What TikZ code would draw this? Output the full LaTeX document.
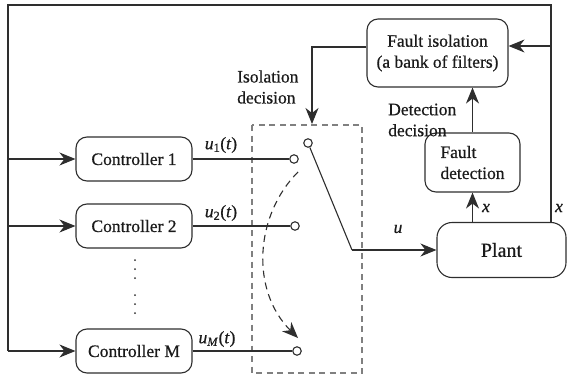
\documentclass[tikz,border=0pt]{standalone}
\usepackage{fontspec}
\setmainfont{Liberation Serif}
\newfontfamily\tnr{Liberation Serif}[FakeBold=0.6]
\usetikzlibrary{arrows.meta}
\definecolor{linec}{HTML}{2E2E2E}
\definecolor{textc}{HTML}{1A1A1A}
\definecolor{dashc}{HTML}{808080}
\newcommand{\fsz}{\tnr\fontsize{17.5}{21}\selectfont}
\newcommand{\fbig}{\tnr\fontsize{20}{24}\selectfont}
\begin{document}
\begin{tikzpicture}[x=1pt,y=-1pt,
  line/.style={draw=linec, line width=1.1pt},
  arr/.style={line, -{Stealth[length=16pt,width=13pt,inset=5pt]}},
  blk/.style={draw=linec, line width=1.1pt, rounded corners=11pt, inner sep=0pt, font=\fsz, text=textc},
  ctrl/.style={blk, minimum width=116pt, minimum height=44pt},
  contact/.style={circle, draw=linec, line width=1.1pt, fill=white, minimum size=8.5pt, inner sep=0pt},
  lbl/.style={inner sep=0pt, font=\fsz, text=textc},
  dashbox/.style={draw=dashc, line width=1.1pt, dash pattern=on 6pt off 4.5pt}
]
\useasboundingbox (0,0) rectangle (569,377);

% frame corners
\coordinate (tl) at (8,5);
\coordinate (tr) at (551,5);
\coordinate (bl) at (8,351);

% controllers
\node[ctrl] (k1) at (134,159) {Controller 1};
\node[ctrl] (k2) at (134,226) {Controller 2};
\node[ctrl] (kM) at (134,351) {Controller M};

% vertical dots
\foreach \yy in {260,269,278,295,304,313}
  \fill[linec] (135,\yy) circle (1pt);

% switch contacts
\node[contact] (c1) at (294,159) {};
\node[contact] (c2) at (295,226) {};
\node[contact] (cM) at (297,351) {};
\node[contact] (cp) at (308,143) {};

% dashed box of switch
\draw[dashbox] (252,125) rectangle (362,373);

% plant and fault blocks
\node[blk, rounded corners=15pt, minimum width=129pt, minimum height=55pt, font=\fbig] (plant) at (501.5,250) {Plant};
\node[blk, minimum width=95pt, minimum height=59pt, align=left] (fd) at (472.5,162.5) {Fault\\detection};
\node[blk, minimum width=141pt, minimum height=68pt, align=center] (fi) at (437.5,53) {Fault isolation\\(a bank of filters)};

% frame lines
\draw[line] (bl) -- (tl) -- (tr) -- (plant.north -| tr);

% arrows into controllers
\draw[arr] (k1.west -| tl) -- (k1.west);
\draw[arr] (k2.west -| tl) -- (k2.west);
\draw[arr] (kM.west -| tl) -- (kM.west);

% controller outputs
\draw[line] (k1) -- (c1);
\draw[line] (k2) -- (c2);
\draw[line] (kM) -- (cM);
\node[lbl] (u1) at (221,145) {\textit{u}\textsubscript{1}(\textit{t})};
\node[lbl] (u2) at (221,213) {\textit{u}\textsubscript{2}(\textit{t})};
\node[lbl] (uM) at (217,339) {\textit{u}\textsubscript{\textit{M}}(\textit{t})};

% switch blade and output
\coordinate (bend) at (352,250);
\draw[line] (cp) -- (bend);
\draw[arr] (bend) -- (plant.west);
\node[lbl] (ulab) at (398,229) {\textit{u}};

% dashed selector arrow
\coordinate (ds) at (298,172);
\coordinate (de) at (298,338);
\draw[arr, dash pattern=on 7pt off 5pt] (ds) .. controls (255,215) and (250,290) .. (de);

% plant -> fault detection
\draw[arr] (plant.north -| fd.south) -- (fd.south);
\node[lbl] (x1) at (486,208) {\textit{x}};
\node[lbl] (x2) at (559,208) {\textit{x}};

% fault detection -> fault isolation
\draw[arr] (fd.north) -- (fd.north |- fi.south);
\node[lbl, align=left, anchor=west] (dd) at (388,120) {Detection\\decision};

% x feed into fault isolation
\coordinate (fin) at (551,46);
\draw[arr] (fin) -- (fin -| fi.east);

% isolation decision
\coordinate (fiw) at (fi.west |- 0,47);
\coordinate (isd) at (312,124);
\draw[arr] (fiw) -| (isd);
\node[lbl, align=left, anchor=west] (id) at (237,87) {Isolation\\decision};
\end{tikzpicture}
\end{document}
